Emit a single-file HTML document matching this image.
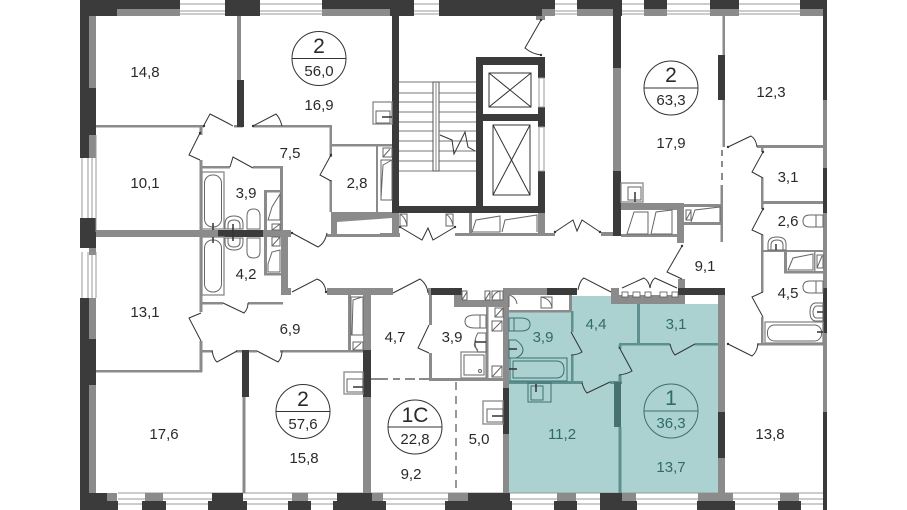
<!DOCTYPE html>
<html><head><meta charset="utf-8"><style>
html,body{margin:0;padding:0;background:#fff}
svg{display:block}
text{font-family:"Liberation Sans",sans-serif;font-size:15px;fill:#2a2a2a;text-anchor:middle}
.t text{fill:#2f6b68}
.d{fill:#3b3b3b}.g{fill:#8b8b8b}.w{fill:#fff}
.l{fill:none;stroke:#333;stroke-width:1}
.o{fill:none;stroke:#666;stroke-width:1}
.b{fill:#fff;stroke:#888;stroke-width:1.300}
.c{fill:none;stroke:#3d6f6f;stroke-width:1}
</style></head><body>
<svg width="907" height="510" viewBox="0 0 907 510" xmlns="http://www.w3.org/2000/svg">
<rect width="907" height="510" fill="#fff"/>
<!-- teal -->
<path d="M509 311H572V296H613V304H718V493H509Z" fill="#abd1d1"/>
<!-- outer top -->
<rect x="89" y="9" width="735" height="7" class="g"/>
<g class="w">
<rect x="180" y="9" width="45" height="7"/><rect x="260" y="9" width="62" height="7"/>
<rect x="414" y="9" width="25" height="7"/><rect x="555" y="9" width="22" height="7"/>
<rect x="622" y="9" width="22" height="7"/><rect x="667" y="9" width="43" height="7"/><rect x="739" y="9" width="61" height="7"/>
</g>
<g class="d">
<rect x="80" y="0" width="100" height="9"/><rect x="80" y="9" width="37" height="7"/>
<rect x="225" y="0" width="35" height="16"/><rect x="322" y="0" width="92" height="9"/><rect x="390" y="9" width="24" height="7"/>
<rect x="439" y="0" width="116" height="9"/><rect x="439" y="9" width="103" height="7"/>
<rect x="577" y="0" width="45" height="9"/><rect x="613" y="9" width="9" height="7"/>
<rect x="644" y="0" width="23" height="9"/><rect x="710" y="0" width="29" height="9"/><rect x="800" y="0" width="27" height="9"/>
</g>
<path d="M180 4H225M180 11H225M180 14H225M260 4H322M260 11H322M260 14H322M414 4H439M414 11H439M414 14H439M555 4H577M555 11H577M555 14H577M622 4H644M622 11H644M622 14H644M667 4H710M667 11H710M667 14H710M739 4H800M739 11H800M739 14H800" stroke="#999" fill="none"/>
<!-- left wall -->
<rect x="80" y="0" width="9" height="158" class="d"/>
<rect x="89" y="16" width="7" height="142" class="g"/><rect x="80" y="88" width="16" height="47" class="d"/>
<rect x="80" y="218" width="16" height="30" class="d"/><rect x="89" y="248" width="7" height="7" class="g"/>
<path d="M82 158V218M88 158V218M92 158V218M96 135V232M82 252V298M88 252V298M92 252V298M96 252V298" stroke="#999" fill="none"/>
<rect x="80" y="298" width="9" height="212" class="d"/>
<rect x="89" y="298" width="7" height="195" class="g"/><rect x="80" y="339" width="16" height="46" class="d"/>
<!-- right wall -->
<rect x="823" y="0" width="4" height="510" class="g"/>
<rect x="823" y="0" width="4" height="100" class="d"/><rect x="823" y="168" width="4" height="45" class="d"/><rect x="823" y="288" width="4" height="45" class="d"/><rect x="823" y="412" width="4" height="98" class="d"/>
<!-- bottom wall -->
<path d="M118 493H823M118 499H823M118 504H823" stroke="#999"/>
<g class="g">
<rect x="107" y="493" width="10" height="8"/><rect x="145" y="493" width="18" height="8"/><rect x="292" y="493" width="16" height="8"/><rect x="372" y="493" width="11" height="8"/><rect x="448" y="493" width="20" height="8"/><rect x="557" y="493" width="19" height="8"/><rect x="622" y="493" width="14" height="8"/><rect x="698" y="493" width="35" height="8"/><rect x="780" y="493" width="19" height="8"/>
</g>
<g class="d">
<rect x="80" y="493" width="27" height="8"/><rect x="80" y="501" width="38" height="9"/><rect x="142" y="501" width="24" height="9"/>
<rect x="212" y="493" width="31" height="8"/><rect x="208" y="501" width="39" height="9"/><rect x="288" y="501" width="23" height="9"/>
<rect x="337" y="493" width="35" height="8"/><rect x="333" y="501" width="53" height="9"/><rect x="445" y="501" width="67" height="9"/><rect x="468" y="493" width="42" height="8"/>
<rect x="554" y="501" width="23" height="9"/><rect x="600" y="493" width="22" height="8"/><rect x="600" y="501" width="37" height="9"/>
<rect x="697" y="501" width="38" height="9"/><rect x="778" y="501" width="23" height="9"/>
</g>
<!-- grey interior walls -->
<g class="g">
<rect x="237" y="16" width="4" height="64"/>
<rect x="96" y="125" width="108" height="2.500"/><rect x="234" y="125" width="9" height="2.500"/><rect x="253" y="125" width="78" height="2.500"/>
<rect x="329.500" y="125" width="2.500" height="32"/><rect x="329.500" y="180" width="2.500" height="32"/>
<rect x="331" y="144" width="61" height="2.500"/><rect x="376" y="145" width="2" height="67"/>
<rect x="199.500" y="127" width="3" height="8"/><rect x="199.500" y="160" width="3" height="72"/>
<rect x="200" y="166" width="30" height="2.500"/><rect x="253" y="166" width="30" height="2.500"/><rect x="280" y="166" width="3" height="64"/>
<rect x="264" y="190" width="18" height="2.500"/><rect x="264" y="190" width="3" height="40"/>
<rect x="96" y="230" width="122" height="7"/><rect x="263" y="230" width="28" height="7"/>
<rect x="327" y="234" width="73" height="3"/>
<rect x="331" y="212" width="6" height="25"/><path d="M331 212H392V218L337 222H331Z"/><rect x="392" y="212" width="7" height="25"/>
<rect x="199.500" y="237" width="3" height="75"/><rect x="199.500" y="341" width="3" height="31"/><rect x="96" y="370" width="106" height="2.500"/>
<rect x="200" y="302" width="23" height="2.500"/><rect x="248" y="302" width="35" height="2.500"/><rect x="281" y="237" width="7" height="58"/><rect x="264" y="237" width="3" height="38"/><rect x="264" y="273" width="18" height="2.500"/>
<rect x="283" y="288" width="8" height="7"/><rect x="327" y="288" width="66" height="7"/>
<rect x="363" y="295" width="8" height="198"/><rect x="348" y="295" width="3" height="55"/>
<rect x="200" y="350" width="13" height="2.500"/><rect x="236" y="350" width="6" height="2.500"/><rect x="249" y="350" width="8" height="2.500"/><rect x="280" y="350" width="85" height="2.500"/>
<rect x="242.500" y="397" width="3" height="96"/>
<rect x="371" y="378" width="17" height="2"/><rect x="393" y="378" width="7" height="2"/><rect x="405" y="378" width="10" height="2"/><rect x="419" y="378" width="12" height="2"/>
<rect x="360" y="288" width="33" height="7"/><rect x="428" y="288" width="4" height="7"/>
<rect x="429" y="293" width="3" height="32"/><rect x="429" y="353" width="3" height="28"/><rect x="430" y="378" width="75" height="3"/>
<rect x="454" y="295" width="8" height="12"/><rect x="454" y="300" width="51" height="7"/><rect x="486" y="307" width="2.500" height="72"/>
<rect x="503" y="288" width="6" height="205"/><rect x="503" y="288" width="44" height="7"/>
<rect x="509" y="310" width="62" height="2.500"/><rect x="569" y="295" width="3" height="16"/>
<rect x="611" y="288" width="8" height="16"/><rect x="611" y="295" width="74" height="9"/><rect x="678" y="279" width="7" height="16"/>
<rect x="718" y="295" width="7" height="198"/>
<!-- center -->
<rect x="380" y="214" width="19" height="3"/><rect x="392" y="213" width="7" height="23"/><rect x="380" y="233" width="20" height="3"/>
<rect x="455" y="233" width="14" height="3"/><rect x="469" y="213" width="3" height="23"/><rect x="469" y="233" width="76" height="3"/><rect x="538" y="213" width="7" height="23"/><rect x="545" y="233" width="10" height="3"/>
<rect x="601" y="232" width="12" height="4"/><rect x="536" y="16" width="9" height="4"/>
<rect x="613" y="68" width="8" height="103"/>
<rect x="621" y="203" width="62" height="7"/><rect x="677" y="203" width="7" height="40"/><rect x="621" y="234" width="58" height="3"/>
<rect x="684" y="222" width="37" height="3"/><rect x="684" y="204" width="37" height="3"/><rect x="720.500" y="185" width="2.500" height="57"/>
<rect x="722.500" y="16" width="2.500" height="131"/>
<rect x="757" y="145" width="66" height="3"/><rect x="761" y="147" width="2.500" height="5"/><rect x="761" y="178" width="2.500" height="31"/><rect x="761" y="201" width="62" height="3"/><rect x="761" y="235" width="2.500" height="57"/><rect x="761" y="317" width="2.500" height="27"/>
<rect x="757" y="343" width="66" height="2.500"/>
<rect x="763" y="250" width="60" height="2"/><rect x="784" y="252" width="3" height="21"/><rect x="784" y="271" width="39" height="2.500"/><rect x="814" y="252" width="1.500" height="20"/>
<rect x="721" y="150" width="2" height="6"/><rect x="721" y="161" width="2" height="6"/><rect x="721" y="173" width="2" height="7"/>
</g>
<!-- dashed vertical -->
<path d="M456 382V493" stroke="#777" stroke-width="1.500" stroke-dasharray="8 6" fill="none"/>
<!-- teal walls -->
<g fill="#5f9090">
<rect x="637" y="304" width="3" height="40"/><rect x="619" y="343" width="51" height="2.500"/><rect x="695" y="343" width="23" height="2.500"/>
<rect x="571" y="311" width="2.500" height="21"/><rect x="571" y="355" width="2.500" height="28"/><rect x="509" y="381" width="74" height="3"/><rect x="610" y="381" width="12" height="3"/>
<rect x="618.500" y="345" width="3" height="4"/><rect x="618.500" y="375" width="3" height="8"/><rect x="618.500" y="427" width="3" height="66"/>
</g>
<rect x="614" y="382" width="7" height="45" fill="#47716f"/>
<!-- dark walls -->
<g class="d">
<rect x="237" y="80" width="7" height="47"/><rect x="218" y="230" width="45" height="7"/>
<rect x="242" y="350" width="7" height="47"/><rect x="363" y="350" width="8" height="47"/>
<rect x="431" y="288" width="31" height="7"/><rect x="503" y="388" width="6" height="46"/><rect x="547" y="288" width="30" height="7"/>
<rect x="678" y="288" width="47" height="7"/><rect x="718" y="412" width="7" height="46"/>
<rect x="718" y="55" width="7" height="45"/>
<rect x="613" y="16" width="8" height="52"/><rect x="613" y="171" width="8" height="65"/>
<rect x="392" y="16" width="7" height="197"/><rect x="392" y="206" width="153" height="7"/>
<rect x="476" y="57" width="7" height="156"/><rect x="476" y="57" width="69" height="8"/><rect x="476" y="114" width="69" height="7"/>
<rect x="538" y="57" width="7" height="21"/><rect x="538" y="107" width="7" height="20"/><rect x="538" y="171" width="7" height="42"/>
</g>
<path d="M539 78H544V107H539ZM539 127H544V171H539Z" fill="#fff" stroke="#999"/>
<!-- elevators -->
<path d="M489 73H531V107H489ZM489 73L531 107M531 73L489 107M493 125H530V195H493ZM493 125L530 195M530 125L493 195" class="l"/>
<!-- stairs -->
<path d="M399 82H476M399 93H476M399 102H476M399 112H476M399 122H476M399 131H476M399 141H476M399 151H476M399 161H476M399 171H476" stroke="#777" fill="none"/>
<rect x="433" y="82" width="6" height="89" fill="#fff" stroke="#555"/>
<path d="M436 82V171" stroke="#888"/>
<path d="M440 135L452 140L454 154L465 132L468 147L475 151" class="l"/>
<!-- doors -->
<g class="l">
<path d="M204 125L210 114Q224 121 233 126M253 126L276 114Q280 118 282 126M200 133L189 155L200 160M331 155L320 175L331 181M230 167L233 157L253 168M292 233L318 247Q325 243 327 233"/>
<path d="M223 303L244 313Q248 309 248 303M201 313L189 318L201 341M212 351Q214 360 217 362L237 351M257 351L278 362Q282 358 282 351M292 292L317 279Q325 282 326 292"/>
<path d="M393 293L420 279Q427 284 428 293M429 325L418 348L429 353M578 290Q580 280 584 278L611 292M571 332L582 352Q577 355 571 355M582 383Q584 390 587 393L610 382M619 347L632 371Q627 374 619 375M670 344Q672 352 675 355L695 344"/>
<path d="M728 344L752 356Q757 352 758 344M763 292L752 297L763 317M763 209L752 230L763 235M763 152L752 172L763 178M728 147L751 136Q756 139 757 147M682 246L667 272L682 279"/>
<path d="M400 227L422 240L428 228L433 240L455 227M555 232L573 220L577 231L582 220L600 232M622 288L644 278Q649 281 650 288Q651 281 655 278L677 288M541 20L525 48Q532 54 541 55"/>
</g>
<g fill="#333"><circle cx="204" cy="126" r="1.200"/><circle cx="253" cy="126" r="1.200"/><circle cx="200" cy="133" r="1.200"/><circle cx="331" cy="155" r="1.200"/><circle cx="292" cy="233" r="1.200"/><circle cx="326" cy="292" r="1.200"/><circle cx="400" cy="227" r="1.200"/><circle cx="455" cy="227" r="1.200"/><circle cx="555" cy="232" r="1.200"/><circle cx="600" cy="232" r="1.200"/><circle cx="541" cy="20" r="1.200"/><circle cx="541" cy="55" r="1.200"/><circle cx="763" cy="152" r="1.200"/><circle cx="763" cy="209" r="1.200"/><circle cx="728" cy="344" r="1.200"/><circle cx="728" cy="147" r="1.200"/><circle cx="682" cy="246" r="1.200"/></g>
<!-- west fixtures -->
<rect x="202" y="172" width="22" height="57" class="b"/><rect x="204.500" y="175" width="17" height="52" rx="8" class="o"/>
<rect x="202" y="237" width="22" height="58" class="b"/><rect x="204.500" y="240" width="17" height="52" rx="8" class="o"/>
<g class="o">
<path d="M225 229V224Q225 216 234 216Q243 216 243 224V229ZM228 229V225Q228 220 234 220Q240 220 240 225V229Z"/>
<path d="M225 238V242Q225 250 234 250Q243 250 243 242V238ZM228 238V242Q228 247 234 247Q240 247 240 242V238Z"/>
<path d="M247 229V216Q247 209 253.500 209Q260 209 260 216V229ZM247 238V252Q247 258 253.500 258Q260 258 260 252V238Z"/>
<path d="M268 220L272 207L280 194V220ZM268 264L272 252L280 250V272H268Z"/>
<rect x="272" y="224" width="8" height="6"/><rect x="272" y="237" width="8" height="9"/>
<path d="M272 230L280 224M272 246L280 237"/>
<rect x="383" y="148" width="9" height="9"/><path d="M383 157L390 149"/>
<rect x="381" y="160" width="11" height="40"/><path d="M381 198L383 165L392 160"/>
<rect x="351" y="297" width="12" height="38"/><path d="M352 335L353 300L362 297"/>
<rect x="353" y="342" width="10" height="8"/><path d="M353 350L361 343"/>
</g>
<!-- counters -->
<rect x="373" y="102" width="19" height="22" class="b"/><rect x="376" y="111" width="14" height="12" class="o"/>
<rect x="344" y="372" width="19" height="22" class="b"/><rect x="347" y="379" width="16" height="13" class="o"/>
<rect x="483" y="401" width="20" height="23" class="b"/><rect x="487" y="409" width="16" height="13" class="o"/>
<rect x="621" y="183" width="22" height="19" class="b"/><rect x="628" y="187" width="13" height="13" class="o"/>
<rect x="528" y="383" width="23" height="19" class="c"/><rect x="531" y="386" width="12" height="14" class="c"/>
<!-- 3,9 bathroom -->
<rect x="461" y="352" width="25" height="26" class="b"/><rect x="464" y="355" width="20" height="20" class="o"/>
<g class="o">
<circle cx="480" cy="371" r="1.500"/>
<path d="M486 315H475Q465 315 465 321.500Q465 328 475 328H486ZM480 315V328"/>
<path d="M486 333H478Q472 342 478 352H486Z"/>
<path d="M476 340Q472 346 478 350"/>
<rect x="496" y="291" width="7" height="9" fill="#fff"/>
<rect x="462" y="291" width="5" height="9" fill="#fff"/><path d="M462 300L467 292"/>
<rect x="485" y="291" width="5" height="9" fill="#fff"/><path d="M485 300L490 292"/>
<rect x="492" y="291" width="8" height="9" fill="#fff"/><path d="M492 300Q493 293 500 291"/>
<rect x="495" y="308" width="8" height="9"/><path d="M495 317L503 308"/>
<rect x="492" y="321" width="10" height="10"/><path d="M492 331L502 321"/>
<rect x="492" y="366" width="10" height="11"/><path d="M492 377L502 366"/>
<rect x="541" y="297" width="11" height="11" fill="#fff"/><path d="M541 297Q551 299 552 308"/>
<path d="M509 296V307M509 295Q516 297 517 304"/>
</g>
<!-- teal fixtures -->
<path d="M509 318H521Q530 318 530 324.500Q530 331 521 331H509ZM514 318V331" class="c"/>
<path d="M509 340H516Q523 345 523 350Q523 355 516 358H509Z" class="c"/>
<rect x="510" y="358" width="57" height="23" class="c"/><path d="M513 361H556Q564 361 564 369.500Q564 378 556 378H513Z" class="c"/>
<!-- teal top door squares -->
<g fill="#fff" stroke="#555" stroke-width=".8">
<rect x="622" y="292" width="6" height="5"/><rect x="633" y="292" width="7" height="5"/><rect x="645" y="292" width="6" height="5"/><rect x="660" y="292" width="7" height="5"/><rect x="672" y="292" width="6" height="5"/>
</g>
<!-- east fixtures -->
<rect x="765" y="322" width="58" height="21" class="b"/><rect x="767.500" y="325" width="54" height="16" rx="7" class="o"/>
<g class="o">
<path d="M823 227H810Q803 227 803 221Q803 215 810 215H823ZM816 215V227M823 293H810Q803 293 803 287Q803 281 810 281H823ZM816 281V293"/>
<path d="M768 250V244Q768 237 777 237Q786 237 786 244V250ZM771 250V245Q771 240 777 240Q783 240 783 245V250Z"/>
<path d="M823 303H815Q810 304 810 312Q810 320 815 321H823ZM823 306H816Q813 308 813 312Q813 317 816 318H823Z"/>
<path d="M788 270L793 258L813 254V270ZM817 255H823V268H817ZM817 268L822 256"/>
<path d="M627 234L634 212H648V234ZM651 234L656 212L672 210V234ZM691 222L695 210L720 207V222"/>
<rect x="686" y="210" width="5" height="10"/><path d="M686 220L691 211"/>
<path d="M472 232L476 220L500 216V232ZM502 232L505 220L537 215V232"/>
<rect x="400" y="214" width="7" height="12"/><path d="M400 214Q406 218 407 226"/>
<rect x="446" y="214" width="7" height="12"/><path d="M446 214Q452 218 453 226"/>
</g>
<!-- faucets -->
<path d="M213 223V230M213 237V243M233 224V241M382 117H392M353 387H363M492 416H503M635 192V202M475 342H486M817 312H823M817 332H823M776 244V250M509 349H517M509 369H517M536 384V392" stroke="#333" stroke-width="1.500" fill="none"/>
<!-- room numbers -->
<g>
<text x="145" y="77">14,8</text><text x="319" y="110">16,9</text><text x="290" y="158">7,5</text><text x="145" y="188">10,1</text><text x="357" y="188">2,8</text><text x="246" y="198">3,9</text><text x="246" y="279">4,2</text><text x="145" y="317">13,1</text><text x="290" y="334">6,9</text><text x="164" y="439">17,6</text><text x="304" y="463">15,8</text><text x="395" y="342">4,7</text><text x="452" y="342">3,9</text><text x="705" y="271">9,1</text><text x="788" y="298">4,5</text><text x="788" y="226">2,6</text><text x="788" y="182">3,1</text><text x="771" y="97">12,3</text><text x="671" y="148">17,9</text><text x="770" y="439">13,8</text><text x="479" y="444">5,0</text><text x="411" y="479">9,2</text>
</g>
<g class="t">
<text x="543" y="342">3,9</text><text x="596" y="329">4,4</text><text x="676" y="329">3,1</text><text x="562" y="439">11,2</text><text x="671" y="472">13,7</text>
</g>
<!-- badges -->
<g fill="none" stroke="#333" stroke-width="1">
<circle cx="319" cy="58.500" r="27" fill="#fff"/><path d="M292 58.500H346"/>
<circle cx="303" cy="411.500" r="27" fill="#fff"/><path d="M276 411.500H330"/>
<circle cx="671" cy="88" r="27" fill="#fff"/><path d="M644 88H698"/>
<circle cx="415" cy="427" r="27" fill="#fff"/><path d="M388 427H442"/>
<circle cx="671" cy="411" r="27" stroke="#3d6f6f"/><path d="M644 411H698" stroke="#3d6f6f"/>
</g>
<g>
<text x="319" y="53" style="font-size:21px">2</text><text x="319" y="76">56,0</text>
<text x="303" y="406" style="font-size:21px">2</text><text x="303" y="429">57,6</text>
<text x="671" y="82" style="font-size:21px">2</text><text x="671" y="105">63,3</text>
<text x="415" y="422" style="font-size:21px">1C</text><text x="415" y="444">22,8</text>
</g>
<g class="t"><text x="671" y="405" style="font-size:21px">1</text><text x="671" y="428">36,3</text></g>
</svg>
</body></html>
